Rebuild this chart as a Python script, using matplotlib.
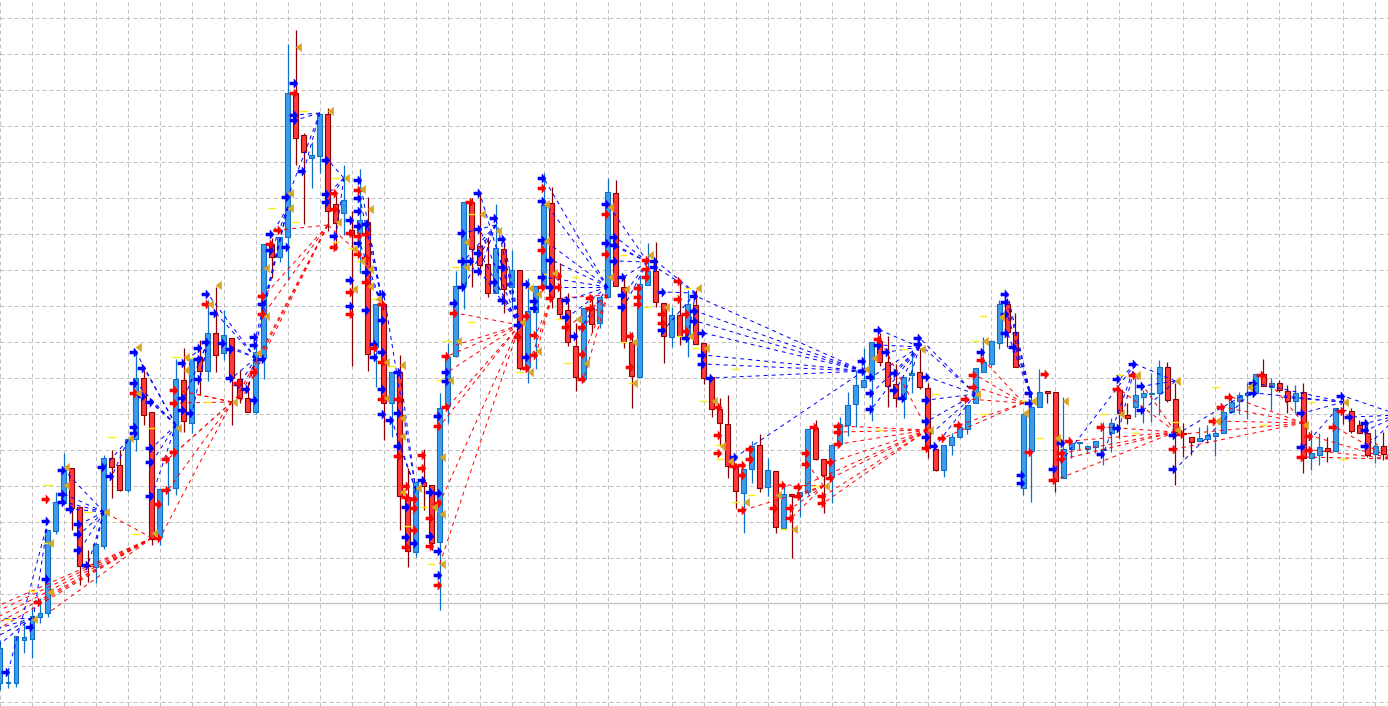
import matplotlib
matplotlib.use("Agg")
import matplotlib.pyplot as plt
from matplotlib.path import Path

opens = [683,683,683,640,639,617,613,531,503,468,507,565,567,546,458,465,490,439,378,412,537,490,488,380,423,357,371,333,353,338,379,398,412,358,244,257,237,93,135,158,156,114,204,213,230,233,222,347,304,403,372,497,552,482,485,542,406,356,286,202,246,264,293,249,287,270,367,312,286,203,298,310,346,379,308,323,297,193,287,342,377,285,271,303,337,315,337,305,343,377,409,424,466,493,469,445,487,471,528,494,496,492,428,459,477,444,425,404,387,379,341,362,384,399,375,372,388,449,470,445,437,429,403,372,364,343,304,332,488,451,407,391,392,478,449,443,449,447,450,433,390,415,407,397,394,393,367,399,433,437,441,439,436,433,412,401,395,393,374,387,383,391,401,392,458,455,448,451,410,411,425,433,454,446]
closes = [648,682,636,637,616,613,530,502,470,508,566,566,544,458,467,490,439,378,415,539,489,489,379,421,358,371,333,355,335,378,398,412,352,244,257,237,93,138,152,155,114,211,223,200,235,220,354,304,403,372,496,551,482,486,543,408,357,286,202,249,265,293,248,289,270,368,311,286,205,297,314,342,377,308,324,297,192,286,342,376,284,271,302,336,315,336,304,344,378,409,423,466,491,469,446,488,470,527,494,496,492,429,459,475,445,424,405,385,380,342,362,386,398,377,373,387,448,470,445,437,427,405,368,362,341,304,332,367,414,407,392,393,481,449,443,442,446,441,449,423,413,418,395,393,393,367,400,432,434,442,438,435,433,412,402,395,393,374,386,383,390,401,393,458,453,447,451,408,410,431,433,455,446,454]
highs = [640,670,636,622,607,598,530,492,453,468,507,550,544,455,450,450,439,353,370,412,489,457,359,348,358,340,300,287,310,338,370,382,342,244,238,237,44,30,133,142,114,108,195,165,211,169,197,304,304,372,355,468,482,449,485,393,343,271,202,198,193,237,204,242,250,270,278,286,173,187,263,293,323,308,295,297,178,180,277,332,275,243,242,303,307,280,290,290,343,377,398,395,463,469,441,434,458,471,483,494,492,429,420,459,445,417,392,370,348,342,333,336,364,377,350,348,383,449,445,433,427,405,368,337,341,300,298,313,414,397,369,391,392,397,443,442,447,441,422,418,390,403,378,390,373,360,362,383,423,437,427,425,430,407,397,392,383,374,359,378,380,385,385,383,430,433,437,408,397,408,420,425,429,432]
lows = [690,688,687,653,658,623,617,534,505,530,585,582,583,549,498,491,492,451,425,545,545,505,495,432,433,395,381,372,360,425,403,412,414,379,278,262,280,165,224,188,173,231,250,235,366,273,371,387,440,437,530,567,557,510,550,610,423,357,309,287,275,297,293,313,307,370,383,369,286,308,319,346,391,382,332,328,297,286,348,408,377,285,307,363,347,345,357,344,384,417,445,478,508,533,483,492,496,533,529,558,517,495,460,513,503,445,436,427,387,421,366,407,407,418,393,389,458,471,477,455,438,434,403,372,367,349,347,367,495,502,407,403,492,478,458,449,453,453,465,452,438,424,417,423,422,415,402,485,457,455,441,443,456,433,413,414,419,393,386,410,392,413,413,473,470,465,462,451,424,433,433,457,463,460]

grid_y = [18 + 36 * n for n in range(20)]
level_y = 603

blue_arrows = [(1,672),(4,627),(6,579),(6,521),(8,494),(8,502),(8,470),(9,509),(10,524),(10,534),(10,550),(11,565),(13,467),(14,476),(17,352),(17,383),(17,427),(17,433),(18,368),(18,396),(19,402),(19,448),(19,462),(19,496),(23,363),(23,398),(23,410),(24,413),(25,348),(25,359),(25,379),(26,342),(26,294),(27,313),(28,343),(29,349),(29,378),(30,384),(31,389),(32,337),(32,345),(32,400),(33,304),(33,359),(34,234),(34,250),(36,197),(36,247),(37,83),(37,115),(37,120),(38,171),(41,160),(41,194),(41,202),(42,236),(44,220),(44,280),(44,306),(45,180),(45,198),(45,211),(45,226),(45,243),(46,224),(46,272),(46,310),(47,357),(47,344),(48,294),(48,320),(48,352),(48,389),(48,414),(49,420),(50,372),(50,413),(50,446),(51,507),(51,537),(52,543),(53,480),(54,536),(54,492),(55,416),(55,493),(55,551),(55,575),(56,372),(56,381),(57,303),(58,233),(58,261),(58,287),(59,261),(60,193),(60,229),(60,253),(60,271),(62,218),(62,282),(63,239),(63,267),(63,300),(65,325),(66,284),(66,357),(67,301),(67,308),(68,178),(68,201),(68,240),(68,277),(69,260),(69,287),(71,300),(71,317),(72,336),(76,204),(76,243),(77,237),(77,245),(77,261),(78,277),(78,295),(78,307),(82,261),(82,267),(83,292),(83,330),(86,338),(87,296),(87,311),(87,321),(88,333),(88,355),(88,364),(89,378),(92,457),(108,361),(108,371),(109,377),(109,393),(109,409),(110,330),(110,345),(111,352),(112,373),(112,390),(113,398),(115,338),(115,344),(116,377),(116,400),(116,421),(116,437),(117,446),(123,352),(126,294),(126,302),(126,314),(126,333),(127,347),(128,475),(128,483),(129,393),(129,403),(132,469),(133,443),(138,454),(140,379),(140,428),(142,364),(143,386),(143,410),(147,435),(147,469),(157,383),(157,393),(163,413),(163,447),(168,396),(169,417),(171,423),(171,430),(171,446)]
red_arrows = [(5,602),(6,499),(17,393),(20,504),(20,538),(21,459),(21,490),(22,390),(22,403),(22,452),(26,304),(30,383),(32,372),(33,296),(33,314),(34,244),(35,230),(37,93),(42,193),(42,209),(42,247),(44,233),(44,292),(44,314),(45,190),(45,236),(45,254),(46,234),(46,258),(46,282),(47,348),(48,304),(48,362),(48,399),(50,399),(50,456),(51,486),(51,497),(51,547),(52,499),(52,508),(52,530),(53,455),(53,468),(54,546),(54,518),(55,426),(55,503),(55,585),(56,356),(56,407),(57,313),(59,202),(65,337),(66,316),(66,368),(67,335),(67,355),(68,188),(68,250),(68,287),(69,298),(70,276),(70,287),(71,327),(73,327),(73,354),(73,379),(74,298),(74,308),(76,214),(76,254),(79,336),(79,367),(80,288),(80,297),(80,304),(81,260),(81,269),(81,277),(83,314),(83,323),(85,281),(85,299),(86,314),(86,331),(90,407),(90,435),(90,453),(92,466),(93,465),(93,475),(93,510),(94,449),(94,459),(97,508),(98,485),(99,508),(99,518),(100,487),(100,496),(101,453),(101,464),(102,427),(103,496),(103,503),(104,462),(104,478),(105,426),(105,432),(105,444),(110,339),(116,448),(118,438),(120,425),(121,399),(122,375),(122,387),(123,360),(129,452),(131,374),(132,480),(133,453),(133,459),(134,441),(138,427),(140,389),(142,375),(147,449),(148,434),(152,421),(153,407),(154,397),(158,375),(163,457),(164,436),(164,450),(167,427),(168,411)]
gold_marks = [(4,619),(6,543),(6,592),(8,467),(8,485),(13,512),(16,438),(17,347),(17,393),(19,533),(22,428),(23,357),(23,370),(26,304),(27,285),(29,402),(32,353),(33,268),(33,316),(36,193),(36,208),(37,47),(41,111),(42,222),(43,178),(44,249),(44,289),(45,189),(45,261),(46,209),(46,269),(46,286),(47,299),(48,362),(48,398),(50,365),(50,418),(50,436),(50,492),(52,488),(54,507),(55,457),(55,514),(55,564),(56,380),(57,341),(58,242),(58,267),(60,214),(62,231),(65,322),(66,288),(66,372),(67,294),(67,351),(68,204),(68,241),(69,273),(72,319),(73,363),(76,207),(76,277),(78,289),(79,342),(79,383),(81,255),(83,307),(86,336),(87,288),(88,348),(89,401),(90,446),(91,461),(93,502),(97,495),(99,529),(103,486),(108,369),(109,358),(115,349),(116,430),(122,394),(123,341),(125,317),(128,413),(129,401),(132,438),(133,401),(140,414),(142,375),(147,381),(147,430),(152,421),(156,387),(163,425),(168,402)]
yellow_marks = [(6,485),(4,591),(14,437),(17,534),(22,357),(19,428),(1,619),(11,512),(26,402),(6,543),(24,358),(34,208),(37,222),(38,111),(42,178),(42,242),(44,248),(45,261),(47,299),(49,366),(57,267),(59,322),(56,341),(55,380),(54,564),(53,507),(51,526),(65,372),(59,214),(68,274),(70,319),(71,363),(72,277),(78,255),(79,383),(86,288),(81,307),(85,336),(92,369),(88,401),(87,348),(78,342),(90,445),(90,459),(92,502),(94,495),(98,529),(102,486),(110,430),(113,349),(117,394),(123,414),(122,341),(123,316),(128,401),(130,438),(138,414),(140,375),(142,433),(147,422),(152,387),(158,425),(164,402),(168,459)]

# dashed fans: one hub, several far ends
red_hubs = [(19,538),(29,402),(41,225),(65,325),(69,298),(76,295),(116,430),(103,486),(128,403),(147,432),(163,423),(174,459)]
red_ends = [
    [(0,605),(0,610),(0,616),(0,622),(0,628),(5,602),(6,613),(13,512)],
    [(22,452),(22,403),(22,390),(20,538),(21,490),(21,459),(24,393)],
    [(33,296),(33,314),(29.3,402),(29.6,402),(30,403),(35,230),(45,254)],
    [(57,313),(57,345),(56,356),(56,372),(56,407),(55,426),(55,503),(55,564)],
    [(66,368),(67,355),(67,335)],
    [(73,379),(73,354),(73,327),(74,308),(71,327),(70,298)],
    [(105,426),(105,432),(105,444),(104,462),(104,478),(103,496),(103,503),(100,487),(110,339)],
    [(99,508),(99,518),(98,485),(100,496),(101,464),(93,510)],
    [(118,438),(120,425),(121,399),(122,375),(122,387),(123,360)],
    [(132,480),(133,453),(133,459),(134,441),(138,427),(140,389),(142,375)],
    [(147,449),(148,434),(152,421),(153,407),(154,397),(158,375)],
    [(163,457),(164,436),(164,450),(167,427),(168,411)],
]
blue_hubs = [(4,618),(6,521),(13,512),(16,440),(22,425),(26,342),(32,358),(36,207),(40,113),(43,178),(48,310),(52,490),(65,325),(62,225),(76,287),(81,262),(87,293),(108,371),(115,347),(122,394),(129,398),(142,364),(147,381),(157,388),(168,402),(175,415)]
blue_ends = [
    [(0,618),(0,628),(0,635),(0,644)],
    [(4,627),(1,672)],
    [(8,470),(8,494),(8,502),(9,509),(10,524),(10,534),(10,550),(11,565),(12,544)],
    [(13,467),(14,476)],
    [(17,352),(17,383),(18,368),(18,396),(19,402),(19,448),(19,462),(19,496)],
    [(24,413),(23,398),(23,363),(25,379),(25,359)],
    [(26,294),(27,313),(28,343),(29,349),(29,378),(30,384),(31,389)],
    [(33,304),(32,337),(32,345),(34,234),(34,250)],
    [(37,115),(37,120),(38,171),(36,197)],
    [(41,160),(41,194),(41,202),(42,236)],
    [(45,180),(45,198),(46,224),(46,272),(45,243)],
    [(48,294),(49,420),(50,372),(50,446),(51,507)],
    [(60,193),(60,229),(60,253),(60,271),(62,218),(63,239),(63,267),(62,282),(63,300)],
    [(58,233),(58,261),(58,287),(59,261),(60,271)],
    [(68,178),(68,201),(68,240),(68,277),(69,260),(69,287),(71,300),(71,317),(72,336)],
    [(76,204),(76,243),(77,237),(77,245),(77,261),(78,277),(78,295),(78,307)],
    [(82,261),(82,267),(83,292),(83,330),(86,338)],
    [(87,296),(87,311),(87,321),(88,333),(88,355),(88,364),(89,378),(92,457),(108,361)],
    [(110,330),(110,345),(111,352),(112,373),(112,390),(113,398),(109,377),(109,393),(109,409)],
    [(115,338),(115,344),(116,377),(116,400),(116,421),(116,437),(117,446)],
    [(126,294),(126,302),(126,314),(126,333),(127,347)],
    [(140,428),(138,454),(140,379),(132,469)],
    [(142,364),(143,386),(143,410)],
    [(147,435),(147,469)],
    [(157,383),(157,393),(160,397),(163,413),(163,447)],
    [(168,396),(169,417),(171,423),(171,430),(171,446)],
]

blue_fill = "#3d9be9"
blue_edge = "#0f6fc6"
red_fill = "#ff3b3b"
red_edge = "#8b0000"

# arrow and triangle outlines, tip near the origin, so the tip sits on the candle
arrow = Path([(1.5,0),(-2.5,4.5),(-2.5,1.5),(-6.5,1.5),(-6.5,-1.5),(-2.5,-1.5),(-2.5,-4.5),(1.5,0)], closed=True)
triangle = Path([(-0.5,0),(5,4),(5,-4),(-0.5,0)], closed=True)

fig = plt.figure(figsize=(13.88, 7.06), dpi=100)
ax = fig.add_axes([0, 0, 1, 1])
ax.set_xlim(0.0875, 173.59)
ax.set_ylim(706, 0)
ax.set_xticks(range(0, 176, 4))
ax.set_yticks(grid_y)
ax.tick_params(length=0, labelbottom=False, labelleft=False)
for s in ax.spines.values():
    s.set_visible(False)
ax.set_axisbelow(True)
ax.grid(True, color="#c0c0c0", linewidth=0.72, linestyle=(0, (4, 3)))
ax.axhline(level_y, color="#c4c4c4", linewidth=1.0, zorder=1)

for i in range(len(opens)):
    up = closes[i] < opens[i]
    ax.vlines(i, highs[i], lows[i], color=blue_edge if up else red_edge, linewidth=0.9, zorder=2)
    top = min(opens[i], closes[i])
    height = abs(opens[i] - closes[i])
    ax.bar(i, height, 0.62, bottom=top, color=blue_fill if up else red_fill,
           edgecolor=blue_edge if up else red_edge, linewidth=0.8, zorder=3)

for hubs, ends, col in [(red_hubs, red_ends, "#ff0000"), (blue_hubs, blue_ends, "#0000ff")]:
    for hub, far in zip(hubs, ends):
        for e in far:
            ax.plot([hub[0], e[0]], [hub[1], e[1]], color=col, linewidth=0.72,
                    linestyle=(0, (4, 4)), zorder=4)

ax.plot([p[0] for p in blue_arrows], [p[1] for p in blue_arrows], linestyle="none", marker=arrow,
        markersize=9.5, color="#0000ff", markeredgewidth=0.3, zorder=6)
ax.plot([p[0] for p in red_arrows], [p[1] for p in red_arrows], linestyle="none", marker=arrow,
        markersize=9.5, color="#ff0000", markeredgewidth=0.3, zorder=6)
ax.plot([p[0] for p in gold_marks], [p[1] for p in gold_marks], linestyle="none", marker=triangle,
        markersize=7.5, color="#daa520", markeredgewidth=0.3, zorder=7)
ax.hlines([p[1] for p in yellow_marks], [p[0] - 0.45 for p in yellow_marks],
          [p[0] + 0.45 for p in yellow_marks], color="#ffee00", linewidth=1.0, zorder=5)

plt.savefig("out.png", dpi=100)
